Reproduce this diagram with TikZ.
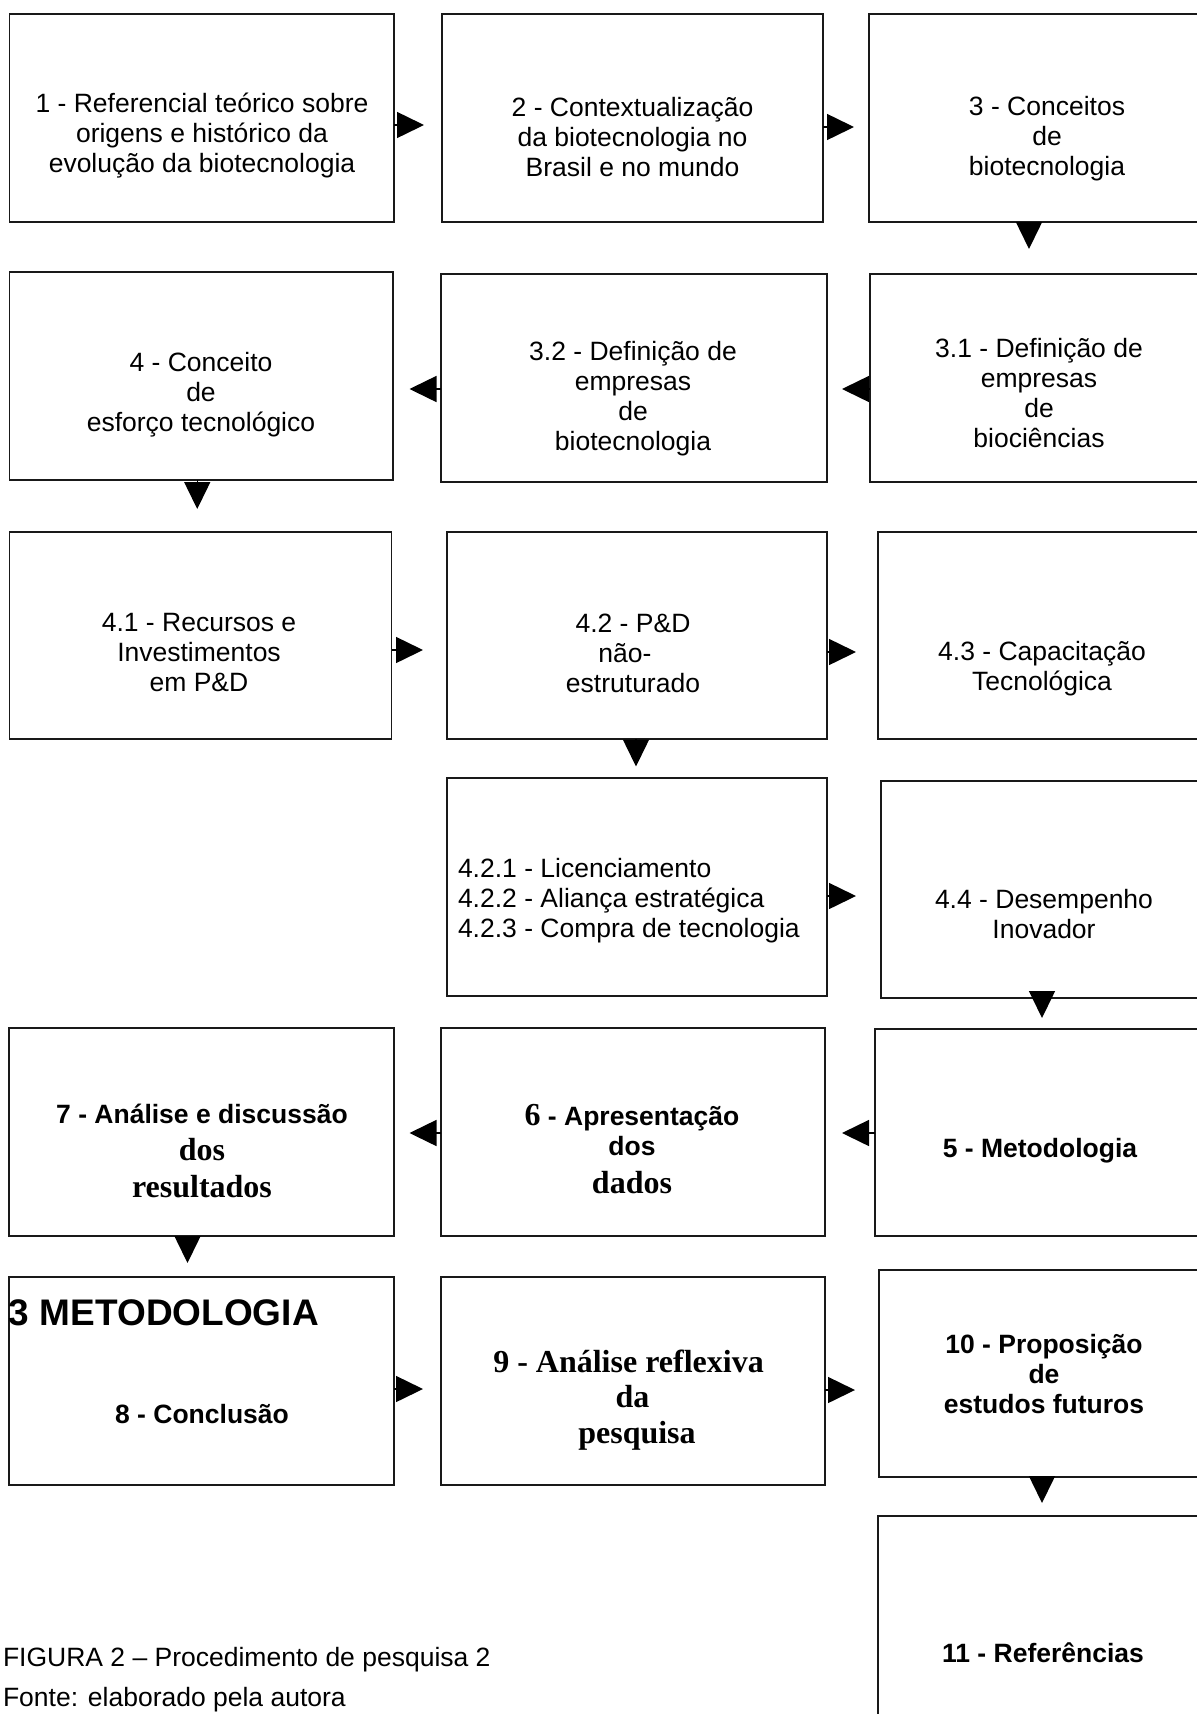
\documentclass[tikz,border=0pt]{standalone}
\usepackage{fontspec}
\setmainfont{Liberation Sans}
\newfontfamily\tnr{Liberation Serif}
\usetikzlibrary{arrows.meta,fit}
\newcommand{\mkst}[2]{\rule[-#2pt]{0pt}{\dimexpr #1pt+#2pt\relax}}
\newcommand{\lnst}{\mkst{21}{9}}
\newcommand{\tb}{\tnr\fontsize{32}{37}\selectfont}
\begin{document}
\begin{tikzpicture}[x=1pt,y=-1pt,
  box/.style={draw=black!90,line width=1.9pt,inner sep=0pt,outer sep=0pt},
  txt/.style={inner sep=0pt,outer sep=0pt,align=center,anchor=north,text=black,
    font=\fontsize{26.5}{30}\selectfont\offinterlineskip},
  btxt/.style={txt,font=\fontsize{26.5}{30}\selectfont\bfseries\offinterlineskip},
  arr/.style={line width=1.5pt,draw=black,-{Triangle[length=27pt,width=26pt]}}]
\useasboundingbox (0,0) rectangle (1197,1714);
\fill[white] (0,0) rectangle (1197,1714);
\clip (0,0) rectangle (1197,1714);
% boxes
\node[box,fit={(9.5,14)(394,222)}] (b1) {};
\node[box,fit={(442,14)(823,222)}] (b2) {};
\node[box,fit={(869,14)(1207,222)}] (b3) {};
\node[box,fit={(9.5,272)(393,480)}] (b4) {};
\node[box,fit={(441,274)(827,482)}] (b32) {};
\node[box,fit={(870,274)(1208,482)}] (b31) {};
\node[box,fit={(9.5,532)(391.5,739)}] (b41) {};
\node[box,fit={(447,532)(827,739)}] (b42) {};
\node[box,fit={(878,532)(1207,739)}] (b43) {};
\node[box,fit={(447,778)(827,996)}] (b42x) {};
\node[box,fit={(881,781)(1207,998)}] (b44) {};
\node[box,fit={(9,1028)(394,1236)}] (b7) {};
\node[box,fit={(441,1028)(825,1236)}] (b6) {};
\node[box,fit={(875,1029)(1207,1236)}] (b5) {};
\node[box,fit={(9,1277)(394,1485)}] (b8) {};
\node[box,fit={(441,1277)(825,1485)}] (b9) {};
\node[box,fit={(879,1270)(1208,1477)}] (b10) {};
\node[box,fit={(878,1516)(1208,1740)}] (b11) {};
% texts
\node[txt] (t1) at (202,91) {\lnst 1 - Referencial teórico sobre\\\lnst origens e histórico da\\\lnst evolução da biotecnologia};
\node[txt] (t2) at (632.5,95) {\lnst 2 - Contextualização\\\lnst da biotecnologia no\\\lnst Brasil e no mundo};
\node[txt] (t3) at (1047,94) {\lnst 3 - Conceitos\\\lnst de\\\lnst biotecnologia};
\node[txt] (t4) at (201,350) {\lnst 4 - Conceito\\\lnst de\\\lnst esforço tecnológico};
\node[txt] (t32) at (633,339) {\lnst 3.2 - Definição de\\\lnst empresas\\\lnst de\\\lnst biotecnologia};
\node[txt] (t31) at (1039,336) {\lnst 3.1 - Definição de\\\lnst empresas\\\lnst de\\\lnst biociências};
\node[txt] (t41) at (199,610) {\lnst 4.1 - Recursos e\\\lnst Investimentos\\\lnst em P\&D};
\node[txt] (t42) at (633,611) {\lnst 4.2 - P\&D\\\lnst não-\rule{16pt}{0pt}\\\lnst estruturado};
\node[txt] (t43) at (1042,639) {\lnst 4.3 - Capacitação\\\lnst Tecnológica};
\node[txt,align=left,anchor=north west] (t42x) at (458,856) {\lnst 4.2.1 - Licenciamento\\\lnst 4.2.2 - Aliança estratégica\\\lnst 4.2.3 - Compra de tecnologia};
\node[txt] (t44) at (1044,887) {\lnst 4.4 - Desempenho\\\lnst Inovador};
\node[btxt] (t5) at (1040,1136) {\lnst 5 - Metodologia};
\node[btxt] (t6) at (632,1102) {\mkst{23}{9}{\tb 6} - Apresentação\\\mkst{21}{12}dos\\\mkst{26}{11}{\tb dados}};
\node[btxt] (t7) at (202,1102) {\mkst{21}{11}7 - Análise e discussão\\\mkst{26}{11}{\tb dos}\\\mkst{26}{11}{\tb resultados}};
\node[btxt] (t8) at (202,1402) {\lnst 8 - Conclusão};
\node[btxt] (t9) at (632.5,1346) {\mkst{26}{9}{\tb 9 - Análise reflexiva}\rule{8pt}{0pt}\\\mkst{26}{10}{\tb da}\\\rule{9pt}{0pt}\mkst{26}{11}{\tb pesquisa}};
\node[btxt] (t10) at (1044,1332) {\lnst 10 - Proposição\\\lnst de\\\lnst estudos futuros};
\node[btxt] (t11) at (1043,1641) {\lnst 11 - Referências};
\node[inner sep=0pt,outer sep=0pt,anchor=base west,font=\fontsize{37}{44}\selectfont\bfseries] (h3) at (9,1325) {3 METODOLOGIA};
\node[inner sep=0pt,outer sep=0pt,anchor=base west,font=\fontsize{26.5}{30}\selectfont] (cap1) at (3,1666) {FIGURA 2 – Procedimento de pesquisa 2};
\node[inner sep=0pt,outer sep=0pt,anchor=base west,font=\fontsize{26.5}{30}\selectfont] (cap2) at (3,1706) {Fonte: elaborado pela autora};
% connectors
\path ([yshift=-7pt]b1.east) coordinate (s12);
\draw[arr,shorten >=18pt] (s12) -- (s12 -| b2.west);
\path ([yshift=-9pt]b2.east) coordinate (s23);
\draw[arr,shorten >=15pt] (s23) -- (s23 -| b3.west);
\path ([xshift=-9pt]b3.south) coordinate (s331);
\draw[arr,shorten >=25pt] (s331) -- (s331 |- b31.north);
\path ([yshift=-11pt]b31.west) coordinate (s3132);
\draw[arr,shorten >=15pt] (s3132) -- (s3132 -| b32.east);
\path ([yshift=-11pt]b32.west) coordinate (s324);
\draw[arr,shorten >=16.5pt] (s324) -- (s324 -| b4.east);
\path ([xshift=-4pt]b4.south) coordinate (s441);
\draw[arr,shorten >=23pt] (s441) -- (s441 |- b41.north);
\path ([yshift=-14.5pt]b41.east) coordinate (s4142);
\draw[arr,shorten >=24pt] (s4142) -- (s4142 -| b42.west);
\path ([yshift=-16.5pt]b42.east) coordinate (s4243);
\draw[arr,shorten >=22pt] (s4243) -- (s4243 -| b43.west);
\path ([xshift=-1pt]b42.south) coordinate (s42x);
\draw[arr,shorten >=11.5pt] (s42x) -- (s42x |- b42x.north);
\path ([yshift=-9pt]b42x.east) coordinate (s42x44);
\draw[arr,shorten >=25pt] (s42x44) -- (s42x44 -| b44.west);
\path ([xshift=-2pt]b44.south) coordinate (s445);
\draw[arr,shorten >=11pt] (s445) -- (s445 |- b5.north);
\path ([yshift=-0.5pt]b5.west) coordinate (s56);
\draw[arr,shorten >=17pt] (s56) -- (s56 -| b6.east);
\path ([yshift=-1pt]b6.west) coordinate (s67);
\draw[arr,shorten >=15.5pt] (s67) -- (s67 -| b7.east);
\path ([xshift=-14pt]b7.south) coordinate (s78);
\draw[arr,shorten >=14pt] (s78) -- (s78 |- b8.north);
\path ([yshift=-8pt]b8.east) coordinate (s89);
\draw[arr,shorten >=18pt] (s89) -- (s89 -| b9.west);
\path ([yshift=-9pt]b9.east) coordinate (s910);
\draw[arr,shorten >=24pt] (s910) -- (s910 -| b10.west);
\path ([xshift=-1.5pt]b10.south) coordinate (s1011);
\draw[arr,shorten >=13pt] (s1011) -- (s1011 |- b11.north);
\end{tikzpicture}
\end{document}
